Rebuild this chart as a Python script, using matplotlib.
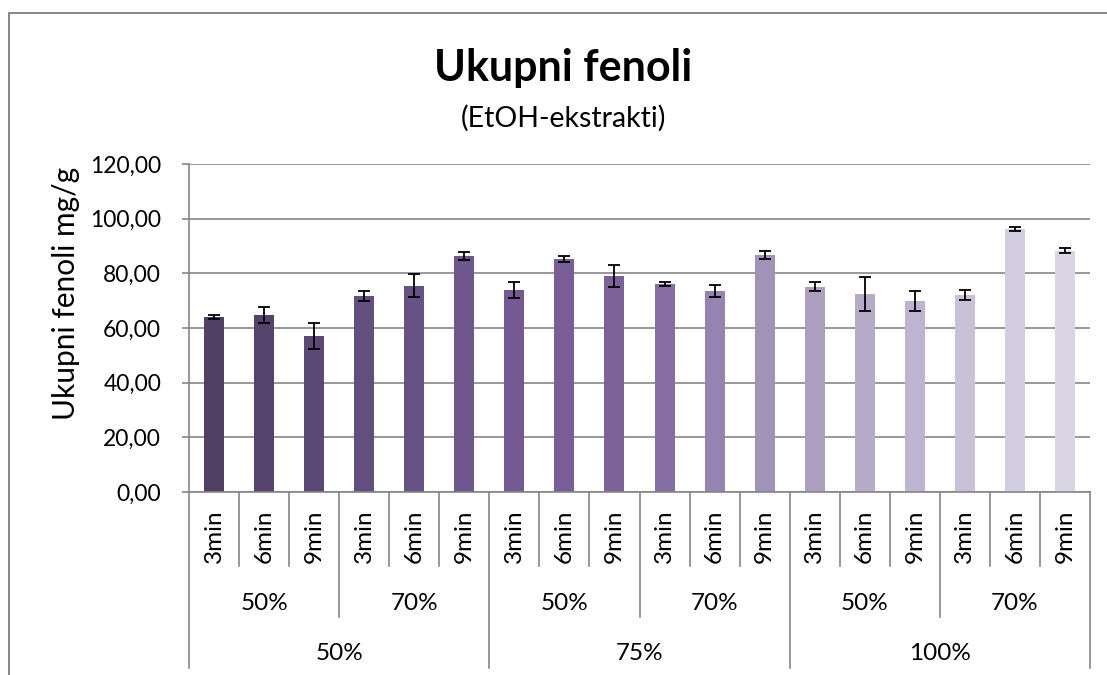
from matplotlib import pyplot as plt
from matplotlib import transforms
from matplotlib.patches import Rectangle
import numpy as np

# data
times = ["3min", "6min", "9min"] * 6
subgroups = ["50%", "70%", "50%", "70%", "50%", "70%"]
groups = ["50%", "75%", "100%"]
values = [64.1, 64.8, 57.1, 71.7, 75.4, 86.3,
          73.9, 85.2, 79.0, 76.1, 73.5, 86.7,
          75.1, 72.4, 69.9, 72.1, 96.2, 88.2]
errors = [0.7, 2.8, 4.9, 1.8, 4.2, 1.6,
          3.0, 1.0, 4.0, 0.9, 2.3, 1.3,
          1.7, 6.3, 3.5, 1.9, 0.8, 0.9]
colors = ["#523f66", "#55436e", "#5c4876", "#634e7f", "#675285", "#6d578c",
          "#735a92", "#785d96", "#7d6199", "#866da4", "#9683b1", "#a192b8",
          "#ad9fc0", "#b6abc7", "#beb4cf", "#c9c1d7", "#d2cde0", "#d9d5e4"]
yticks = [0, 20, 40, 60, 80, 100, 120]

W, H = 1107, 675
GRAY = "#868686"


def fy(px):
    # figure fraction from a pixel row measured from the top
    return 1 - px / H


def main():
    plt.rcParams["font.family"] = ["Lato", "DejaVu Sans"]
    fig = plt.figure(figsize=(W / 100, H / 100), dpi=100)
    ax = fig.add_axes([189 / W, fy(492), (1090 - 189) / W, (492 - 164) / H])

    n = len(values)
    x = np.arange(n) + 0.5
    ax.bar(x, values, width=0.4, color=colors, zorder=2)
    ax.errorbar(x, values, yerr=errors, fmt="none", ecolor="black",
                elinewidth=1.3, capsize=4.5, capthick=1.3, zorder=3)

    ax.set_xlim(0, n)
    ax.set_ylim(0, 120)
    ax.set_yticks(yticks)
    ax.set_yticklabels([f"{t:.2f}".replace(".", ",") for t in yticks], fontsize=16.5)
    ax.set_xticks([])
    ax.yaxis.grid(True, color=GRAY, linewidth=1.2, zorder=0)
    ax.set_axisbelow(True)
    ax.tick_params(axis="y", length=5, color=GRAY, width=1.2, pad=15)
    for side in ["top", "right"]:
        ax.spines[side].set_visible(False)
    for side in ["left", "bottom"]:
        ax.spines[side].set_color(GRAY)
        ax.spines[side].set_linewidth(1.2)

    # hierarchical category axis
    tr = transforms.blended_transform_factory(ax.transData, fig.transFigure)
    for i in range(n + 1):
        if i % 6 == 0:
            bottom = 668
        elif i % 3 == 0:
            bottom = 617
        else:
            bottom = 566
        ax.plot([i, i], [fy(492), fy(bottom)], transform=tr, color=GRAY,
                linewidth=1.2, clip_on=False)
    for i, t in enumerate(times):
        ax.text(i + 0.5, fy(536), t, transform=tr, rotation=90, ha="center",
                va="center", fontsize=17.5)
    for j, s in enumerate(subgroups):
        ax.text(j * 3 + 1.5, fy(603), s, transform=tr, ha="center",
                va="center", fontsize=17.5)
    for k, g in enumerate(groups):
        ax.text(k * 6 + 3, fy(653), g, transform=tr, ha="center",
                va="center", fontsize=17.5)

    fig.text(563 / W, fy(68), "Ukupni fenoli", ha="center", va="center",
             fontsize=31, fontweight="bold")
    fig.text(563 / W, fy(118), "(EtOH-ekstrakti)", ha="center", va="center",
             fontsize=20.5)
    fig.text(66 / W, fy(293), "Ukupni fenoli mg/g", ha="center", va="center",
             rotation=90, fontsize=21.5)

    # chart border
    fig.patches.append(Rectangle((9 / W, -0.05), 1.1, fy(13) + 0.05,
                                 transform=fig.transFigure, fill=False,
                                 edgecolor=GRAY, linewidth=1.4))

    fig.savefig("out.png", dpi=100)


if __name__ == "__main__":
    main()
